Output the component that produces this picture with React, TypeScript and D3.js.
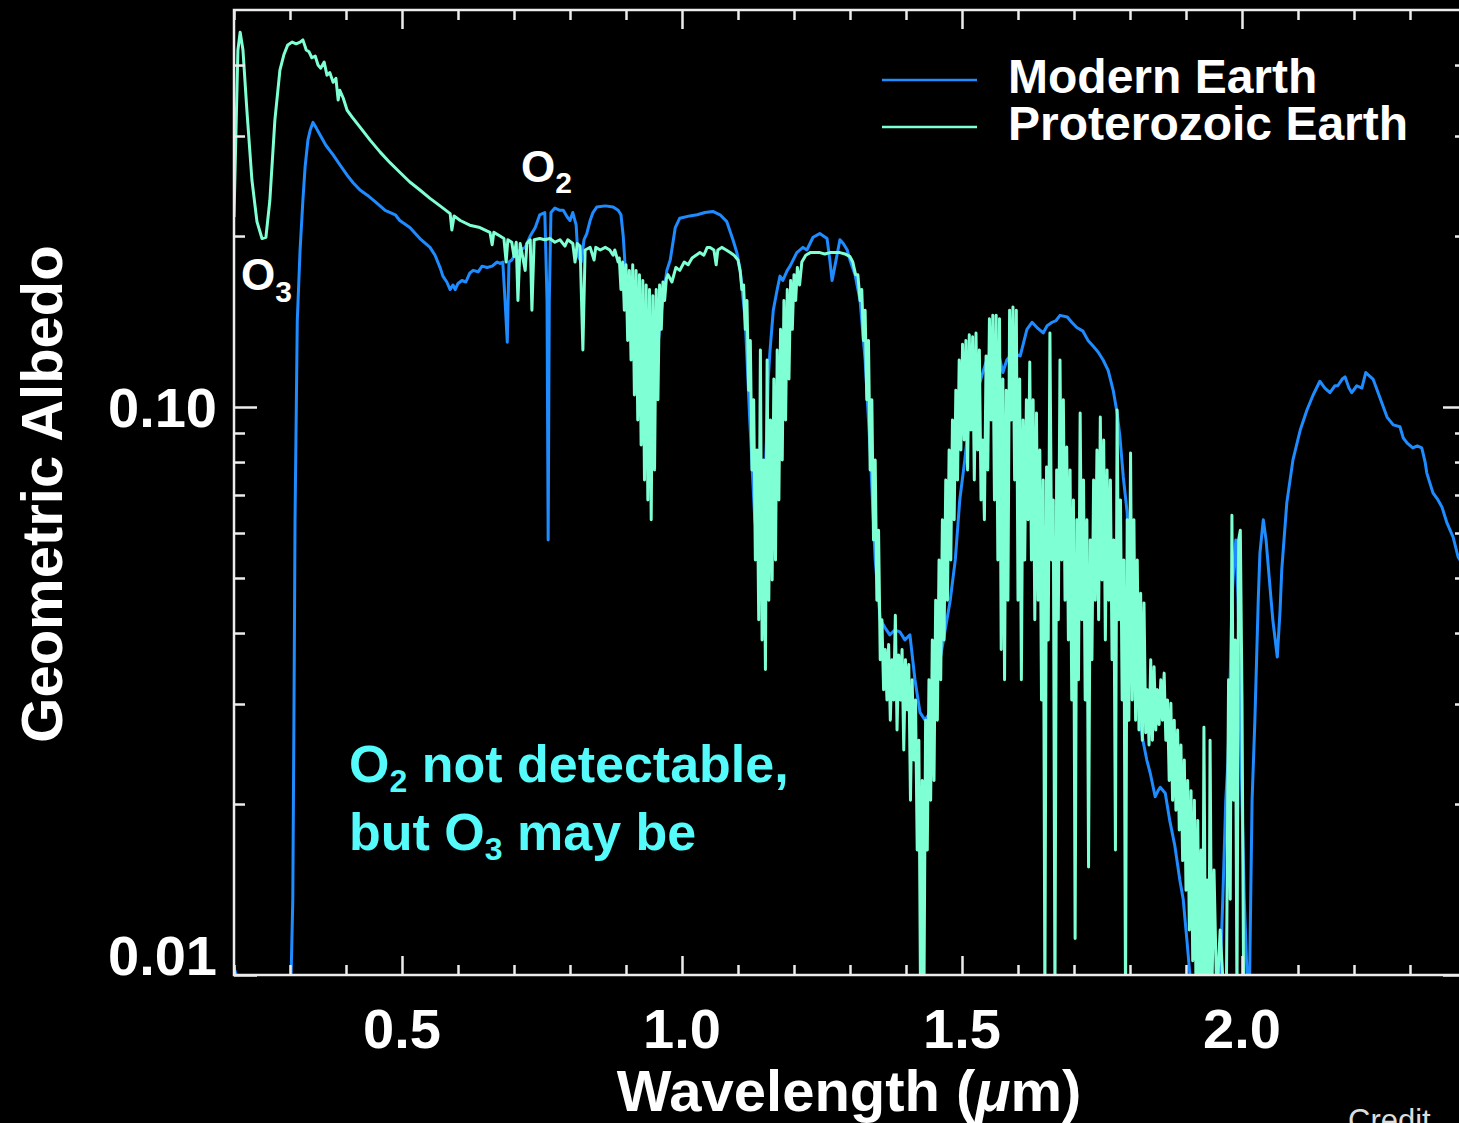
import React, { useEffect, useRef } from "react";
import * as d3 from "d3";

// [wavelength (um), geometric albedo]
const modernEarth: [number, number][] = [
  [0.200,0.0103],[0.204,0.0100],[0.207,0.0094],[0.296,0.0094],[0.302,0.0100],[0.305,0.0136],[0.307,0.0281],[0.309,0.0633],[0.313,0.142],[0.318,0.189],[0.323,0.231],[0.327,0.265],[0.332,0.295],[0.336,0.307],[0.341,0.317],[0.346,0.311],[0.354,0.301],[0.364,0.289],[0.377,0.278],[0.389,0.267],[0.402,0.256],[0.413,0.248],[0.425,0.241],[0.438,0.236],[0.452,0.230],[0.470,0.222],[0.488,0.218],[0.496,0.213],[0.514,0.207],[0.532,0.198],[0.550,0.191],[0.559,0.185],[0.568,0.176],[0.573,0.170],[0.580,0.166],[0.586,0.161],[0.591,0.164],[0.595,0.161],[0.600,0.165],[0.607,0.167],[0.614,0.166],[0.621,0.172],[0.627,0.174],[0.636,0.173],[0.643,0.177],[0.652,0.176],[0.661,0.177],[0.670,0.180],[0.675,0.179],[0.680,0.180],[0.684,0.154],[0.688,0.130],[0.691,0.180],[0.696,0.1815],[0.704,0.187],[0.711,0.189],[0.720,0.191],[0.729,0.200],[0.738,0.207],[0.746,0.218],[0.755,0.220],[0.759,0.154],[0.761,0.0583],[0.763,0.154],[0.766,0.220],[0.773,0.224],[0.782,0.222],[0.788,0.222],[0.795,0.216],[0.800,0.213],[0.805,0.220],[0.811,0.209],[0.814,0.185],[0.820,0.180],[0.825,0.197],[0.830,0.202],[0.836,0.213],[0.841,0.220],[0.848,0.225],[0.863,0.226],[0.877,0.225],[0.886,0.222],[0.891,0.218],[0.895,0.200],[0.898,0.180],[0.904,0.150],[0.916,0.120],[0.934,0.105],[0.952,0.115],[0.964,0.150],[0.973,0.174],[0.979,0.1815],[0.988,0.207],[0.996,0.215],[1.014,0.217],[1.027,0.218],[1.041,0.220],[1.055,0.221],[1.068,0.218],[1.080,0.212],[1.091,0.197],[1.098,0.187],[1.104,0.174],[1.113,0.142],[1.121,0.0949],[1.130,0.0633],[1.139,0.0538],[1.146,0.0633],[1.152,0.0949],[1.154,0.112],[1.157,0.125],[1.163,0.148],[1.170,0.161],[1.175,0.170],[1.180,0.167],[1.188,0.174],[1.193,0.177],[1.205,0.187],[1.216,0.191],[1.223,0.189],[1.234,0.199],[1.246,0.202],[1.259,0.198],[1.264,0.1815],[1.268,0.167],[1.273,0.177],[1.282,0.197],[1.288,0.194],[1.295,0.189],[1.300,0.1815],[1.309,0.171],[1.318,0.154],[1.327,0.121],[1.336,0.0840],[1.345,0.0538],[1.354,0.0422],[1.363,0.0408],[1.371,0.0397],[1.380,0.0405],[1.389,0.0402],[1.398,0.0389],[1.407,0.0397],[1.416,0.0331],[1.425,0.0290],[1.434,0.0281],[1.443,0.0290],[1.461,0.0360],[1.479,0.0457],[1.488,0.0538],[1.496,0.0686],[1.505,0.0807],[1.514,0.0976],[1.523,0.105],[1.529,0.108],[1.536,0.114],[1.543,0.120],[1.550,0.125],[1.563,0.127],[1.568,0.121],[1.573,0.115],[1.580,0.121],[1.586,0.123],[1.595,0.124],[1.604,0.123],[1.611,0.131],[1.616,0.137],[1.625,0.141],[1.634,0.138],[1.645,0.135],[1.652,0.139],[1.661,0.141],[1.668,0.142],[1.675,0.145],[1.688,0.144],[1.696,0.141],[1.705,0.138],[1.716,0.136],[1.725,0.131],[1.734,0.128],[1.743,0.125],[1.752,0.121],[1.761,0.116],[1.770,0.107],[1.777,0.0976],[1.782,0.0886],[1.788,0.0753],[1.795,0.0651],[1.798,0.0510],[1.804,0.0422],[1.811,0.0331],[1.818,0.0281],[1.823,0.0259],[1.830,0.0239],[1.836,0.0227],[1.845,0.0206],[1.850,0.0211],[1.854,0.0214],[1.863,0.0209],[1.871,0.0187],[1.880,0.0169],[1.889,0.0147],[1.895,0.0136],[1.902,0.0114],[1.907,0.0100],[1.911,0.0090],[1.957,0.0090],[1.961,0.0100],[1.966,0.0139],[1.971,0.0203],[1.975,0.0239],[1.979,0.0335],[1.982,0.0457],[1.986,0.0538],[1.989,0.0583],[1.993,0.0457],[1.998,0.0249],[2.004,0.0136],[2.009,0.0100],[2.013,0.0090],[2.018,0.0203],[2.023,0.0281],[2.029,0.0457],[2.032,0.0553],[2.038,0.0633],[2.043,0.0583],[2.050,0.0482],[2.055,0.0422],[2.063,0.0363],[2.068,0.0439],[2.071,0.0517],[2.080,0.0678],[2.091,0.0807],[2.104,0.0911],[2.116,0.0988],[2.127,0.105],[2.139,0.111],[2.148,0.108],[2.157,0.106],[2.166,0.109],[2.171,0.109],[2.179,0.112],[2.184,0.113],[2.191,0.108],[2.196,0.106],[2.205,0.109],[2.214,0.108],[2.221,0.115],[2.234,0.112],[2.246,0.104],[2.259,0.0960],[2.270,0.0930],[2.282,0.0923],[2.288,0.0882],[2.295,0.0864],[2.305,0.0847],[2.313,0.0854],[2.321,0.0847],[2.327,0.0800],[2.330,0.0765],[2.341,0.0706],[2.350,0.0686],[2.357,0.0667],[2.366,0.0625],[2.377,0.0590],[2.386,0.0544],[2.400,0.0517],
];

const proterozoicEarth: [number, number][] = [
  [0.200,0.216],[0.204,0.320],[0.207,0.425],[0.211,0.457],[0.216,0.425],[0.223,0.333],[0.232,0.251],[0.241,0.212],[0.250,0.198],[0.257,0.199],[0.264,0.231],[0.273,0.320],[0.282,0.392],[0.289,0.417],[0.296,0.434],[0.304,0.439],[0.311,0.436],[0.318,0.439],[0.323,0.443],[0.329,0.425],[0.334,0.422],[0.339,0.412],[0.345,0.415],[0.350,0.400],[0.355,0.395],[0.361,0.405],[0.366,0.384],[0.371,0.388],[0.377,0.373],[0.382,0.379],[0.386,0.347],[0.389,0.361],[0.395,0.350],[0.402,0.333],[0.411,0.324],[0.425,0.311],[0.443,0.295],[0.461,0.281],[0.479,0.269],[0.496,0.259],[0.514,0.249],[0.532,0.241],[0.550,0.233],[0.568,0.226],[0.586,0.219],[0.589,0.205],[0.593,0.217],[0.604,0.213],[0.621,0.209],[0.639,0.207],[0.657,0.203],[0.661,0.193],[0.664,0.203],[0.675,0.200],[0.682,0.198],[0.686,0.180],[0.689,0.197],[0.696,0.195],[0.700,0.184],[0.704,0.195],[0.707,0.154],[0.711,0.194],[0.720,0.174],[0.723,0.194],[0.729,0.197],[0.732,0.148],[0.736,0.197],[0.746,0.198],[0.755,0.197],[0.764,0.198],[0.773,0.195],[0.782,0.197],[0.791,0.192],[0.796,0.197],[0.805,0.194],[0.809,0.180],[0.813,0.194],[0.818,0.192],[0.823,0.126],[0.827,0.189],[0.836,0.191],[0.843,0.1815],[0.846,0.191],[0.854,0.189],[0.863,0.191],[0.871,0.189],[0.877,0.185],[0.880,0.189],[0.886,0.180],
  [0.888,0.183],[0.891,0.161],[0.894,0.180],[0.897,0.148],[0.900,0.178],[0.903,0.131],[0.906,0.174],[0.909,0.121],[0.912,0.178],[0.915,0.105],[0.918,0.174],[0.921,0.0949],[0.924,0.171],[0.927,0.0857],[0.930,0.167],[0.933,0.0744],[0.936,0.164],[0.939,0.0686],[0.942,0.161],[0.945,0.0633],[0.948,0.157],[0.951,0.0775],[0.954,0.161],[0.957,0.103],[0.960,0.164],[0.963,0.137],[0.966,0.166],[0.969,0.154],[0.972,0.168],
  [0.975,0.171],[0.982,0.166],[0.989,0.176],[0.996,0.174],[1.004,0.180],[1.011,0.178],[1.018,0.183],[1.025,0.185],[1.032,0.187],[1.039,0.185],[1.045,0.191],[1.050,0.191],[1.057,0.189],[1.061,0.178],[1.064,0.189],[1.071,0.191],[1.079,0.189],[1.086,0.187],[1.093,0.185],[1.100,0.1815],
  [1.104,0.173],[1.107,0.161],[1.110,0.164],[1.113,0.137],[1.116,0.154],[1.119,0.107],[1.122,0.131],[1.125,0.0775],[1.128,0.103],[1.131,0.0538],[1.134,0.0840],[1.137,0.0422],[1.140,0.126],[1.143,0.0389],[1.146,0.0807],[1.149,0.0345],[1.152,0.121],[1.155,0.0457],[1.158,0.0949],[1.161,0.0496],[1.164,0.112],[1.167,0.0538],[1.170,0.126],[1.173,0.0686],[1.176,0.137],[1.179,0.0807],[1.182,0.154],[1.185,0.0949],[1.188,0.161],[1.191,0.112],[1.194,0.167],[1.197,0.137],[1.200,0.171],[1.203,0.154],[1.206,0.176],[1.210,0.164],[1.214,0.180],
  [1.221,0.185],[1.229,0.187],[1.238,0.187],[1.246,0.187],[1.255,0.186],[1.264,0.187],[1.273,0.187],[1.282,0.187],[1.291,0.186],[1.300,0.184],
  [1.305,0.180],[1.310,0.171],[1.314,0.171],[1.318,0.154],[1.321,0.161],[1.324,0.131],[1.327,0.148],[1.330,0.103],[1.333,0.131],[1.336,0.0775],[1.339,0.103],[1.342,0.0583],[1.345,0.0807],[1.348,0.0457],[1.351,0.0607],[1.354,0.0359],[1.357,0.0422],[1.360,0.0318],[1.363,0.0374],[1.366,0.0305],[1.369,0.0382],[1.372,0.0281],[1.375,0.0359],[1.378,0.0305],[1.381,0.0430],[1.384,0.0270],[1.387,0.0366],[1.390,0.0305],[1.393,0.0374],[1.396,0.0249],[1.399,0.0359],[1.402,0.0293],[1.405,0.0352],[1.408,0.0203],[1.411,0.0331],[1.414,0.0239],[1.417,0.0305],[1.420,0.0166],[1.423,0.0259],[1.426,0.0090],[1.429,0.0220],[1.432,0.0090],[1.435,0.0281],[1.438,0.0166],[1.441,0.0331],[1.444,0.0203],[1.447,0.0389],[1.450,0.0220],[1.453,0.0457],[1.456,0.0281],[1.459,0.0538],[1.462,0.0331],[1.465,0.0633],[1.468,0.0389],[1.471,0.0744],[1.474,0.0457],[1.477,0.0840],[1.480,0.0538],[1.483,0.0949],[1.486,0.0633],[1.489,0.107],[1.492,0.0744],[1.495,0.121],[1.498,0.0840],
  [1.501,0.129],[1.504,0.0875],[1.507,0.131],[1.510,0.0775],[1.513,0.134],[1.516,0.0911],[1.519,0.133],[1.522,0.0744],[1.525,0.135],[1.528,0.0840],[1.531,0.126],[1.534,0.0686],[1.537,0.0875],[1.540,0.0633],[1.543,0.123],[1.546,0.0775],[1.549,0.143],[1.552,0.0949],[1.555,0.145],[1.558,0.0686],[1.561,0.145],[1.564,0.0538],[1.567,0.143],[1.570,0.0374],[1.573,0.112],[1.576,0.0331],[1.579,0.107],[1.582,0.0457],[1.585,0.148],[1.588,0.0949],[1.591,0.150],[1.594,0.0744],[1.597,0.148],[1.600,0.0457],[1.603,0.112],[1.606,0.0331],[1.609,0.0949],[1.612,0.0538],[1.615,0.103],[1.618,0.0633],[1.621,0.120],[1.624,0.0538],[1.627,0.103],[1.630,0.0422],[1.633,0.0976],[1.636,0.0457],[1.639,0.0840],[1.642,0.0305],[1.645,0.0744],[1.648,0.0090],[1.651,0.0784],[1.654,0.0389],[1.657,0.135],[1.660,0.0538],[1.663,0.0686],[1.666,0.0090],[1.669,0.0775],[1.672,0.0422],[1.675,0.121],[1.678,0.0538],[1.681,0.103],[1.684,0.0457],[1.687,0.0850],[1.690,0.0389],[1.693,0.0775],[1.696,0.0305],[1.699,0.0686],[1.702,0.0116],[1.705,0.0633],[1.708,0.0331],[1.711,0.0976],[1.714,0.0422],[1.717,0.0744],[1.720,0.0305],[1.723,0.0633],[1.726,0.0155],[1.729,0.0583],[1.732,0.0359],[1.735,0.0744],[1.738,0.0457],[1.741,0.0840],[1.744,0.0422],[1.747,0.0960],[1.750,0.0496],[1.753,0.0875],[1.756,0.0389],[1.759,0.0775],[1.762,0.0457],[1.765,0.0744],[1.768,0.0359],[1.771,0.0583],[1.774,0.0166],[1.777,0.0988],[1.780,0.0422],[1.783,0.0686],[1.786,0.0305],[1.789,0.0538],[1.792,0.0090],[1.795,0.0633],[1.798,0.0281],[1.801,0.0830],
  [1.804,0.0305],[1.807,0.0633],[1.810,0.0281],[1.813,0.0538],[1.816,0.0270],[1.819,0.0470],[1.822,0.0259],[1.825,0.0452],[1.828,0.0267],[1.831,0.0318],[1.834,0.0254],[1.837,0.0359],[1.840,0.0259],[1.843,0.0349],[1.846,0.0270],[1.849,0.0318],[1.852,0.0276],[1.855,0.0331],[1.858,0.0281],[1.861,0.0340],[1.864,0.0259],[1.867,0.0305],[1.870,0.0220],[1.873,0.0301],[1.876,0.0203],[1.879,0.0281],[1.882,0.0195],[1.885,0.0270],[1.888,0.0180],[1.891,0.0254],[1.894,0.0159],[1.897,0.0239],[1.900,0.0141],[1.903,0.0220],[1.906,0.0120],[1.909,0.0211],[1.912,0.0106],[1.915,0.0203],[1.918,0.0090],[1.921,0.0187],[1.924,0.0090],[1.927,0.0166],[1.930,0.0090],[1.932,0.0273],[1.935,0.0090],[1.938,0.0147],[1.941,0.0090],[1.943,0.0259],[1.946,0.0090],[1.950,0.0153],[1.955,0.0090],[1.961,0.0120],[1.968,0.0090],[1.972,0.0090],[1.976,0.0331],[1.979,0.0136],[1.982,0.0645],[1.985,0.0203],[1.988,0.0389],[1.991,0.0090],[1.994,0.0583],[1.997,0.0607],[2.000,0.0305],[2.003,0.0090],
];

const seriesNames = ["Modern Earth", "Proterozoic Earth"];
const seriesColors = ["#1e8cff", "#7fffd4"];

const xMajorTicks = [0.5, 1.0, 1.5, 2.0];
const xTickLabels = ["0.5", "1.0", "1.5", "2.0"];
const xMinorTicks = [0.2, 0.3, 0.4, 0.6, 0.7, 0.8, 0.9, 1.1, 1.2, 1.3, 1.4, 1.6, 1.7, 1.8, 1.9, 2.1, 2.2, 2.3, 2.4];
const yMajorTicks = [0.01, 0.1];
const yTickLabels = ["0.01", "0.10"];
const yMinorTicks = [0.02, 0.03, 0.04, 0.05, 0.06, 0.07, 0.08, 0.09, 0.2, 0.3, 0.4];

function App() {
  const svgRef = useRef<SVGSVGElement>(null);

  useEffect(() => {
    const svg = d3.select(svgRef.current);
    svg.selectAll("*").remove();
    const width = 1459;
    const height = 1123;
    const plot = { left: 234, top: 10, right: 1466, bottom: 975 };
    const axisColor = "#ececec";
    const font = "'Liberation Sans', Arial, Helvetica, sans-serif";

    svg.append("rect").attr("width", width).attr("height", height).attr("fill", "#000");

    const xScale = d3.scaleLinear().domain([0.2, 2.4]).range([plot.left, plot.right]);
    const yScale = d3.scaleLog().domain([0.01, 0.5]).range([plot.bottom, plot.top]);

    svg
      .append("defs")
      .append("clipPath")
      .attr("id", "plot-clip")
      .append("rect")
      .attr("x", plot.left)
      .attr("y", plot.top)
      .attr("width", plot.right - plot.left)
      .attr("height", plot.bottom - plot.top);

    // spectra (green drawn over blue)
    const lineGenerator = d3
      .line<[number, number]>()
      .x((d) => xScale(d[0]))
      .y((d) => yScale(d[1]));

    const curves = svg.append("g").attr("clip-path", "url(#plot-clip)");
    [modernEarth, proterozoicEarth].forEach((series, i) => {
      curves
        .append("path")
        .datum(series)
        .attr("fill", "none")
        .attr("stroke", seriesColors[i])
        .attr("stroke-width", 3)
        .attr("stroke-linejoin", "round")
        .attr("d", lineGenerator);
    });

    // frame
    svg
      .append("rect")
      .attr("x", plot.left)
      .attr("y", plot.top)
      .attr("width", plot.right - plot.left)
      .attr("height", plot.bottom - plot.top)
      .attr("fill", "none")
      .attr("stroke", axisColor)
      .attr("stroke-width", 2.5);

    // inward ticks on all four sides
    const addTicks = (axis: any, tx: number, ty: number) => {
      svg
        .append("g")
        .attr("transform", `translate(${tx}, ${ty})`)
        .call(axis)
        .call((g: any) => g.select(".domain").remove())
        .call((g: any) => g.selectAll("text").remove())
        .call((g: any) => g.selectAll("line").attr("stroke", axisColor).attr("stroke-width", 2.5));
    };
    addTicks(d3.axisBottom(xScale).tickValues(xMinorTicks).tickSize(-10), 0, plot.bottom);
    addTicks(d3.axisBottom(xScale).tickValues(xMajorTicks).tickSize(-19), 0, plot.bottom);
    addTicks(d3.axisTop(xScale).tickValues(xMinorTicks).tickSize(-10), 0, plot.top);
    addTicks(d3.axisTop(xScale).tickValues(xMajorTicks).tickSize(-19), 0, plot.top);
    addTicks(d3.axisLeft(yScale).tickValues(yMinorTicks).tickSize(-11), plot.left, 0);
    addTicks(d3.axisLeft(yScale).tickValues(yMajorTicks).tickSize(-23), plot.left, 0);
    addTicks(d3.axisRight(yScale).tickValues(yMinorTicks).tickSize(-11), plot.right, 0);
    addTicks(d3.axisRight(yScale).tickValues(yMajorTicks).tickSize(-23), plot.right, 0);

    const bold = (sel: any, size: number, color = "#fff") =>
      sel.attr("font-family", font).attr("font-weight", "bold").attr("font-size", size).attr("fill", color);

    // X tick labels
    xMajorTicks.forEach((v, i) => {
      bold(svg.append("text"), 56)
        .attr("x", xScale(v))
        .attr("y", 1048)
        .attr("text-anchor", "middle")
        .text(xTickLabels[i]);
    });

    // Y tick labels (bottom one sits on the axis line, like the original)
    yMajorTicks.forEach((v, i) => {
      bold(svg.append("text"), 56)
        .attr("x", 217)
        .attr("y", i === 0 ? yScale(v) : yScale(v) + 20)
        .attr("text-anchor", "end")
        .text(yTickLabels[i]);
    });

    // X-axis label
    const xTitle = bold(svg.append("text"), 58)
      .attr("x", 849)
      .attr("y", 1111)
      .attr("text-anchor", "middle");
    xTitle.append("tspan").text("Wavelength (");
    xTitle.append("tspan").attr("font-style", "italic").text("\u03bc");
    xTitle.append("tspan").text("m)");

    // Y-axis label
    bold(svg.append("text"), 58)
      .attr("transform", "translate(62, 494) rotate(-90)")
      .attr("text-anchor", "middle")
      .text("Geometric Albedo");

    // legend
    seriesNames.forEach((name, i) => {
      const ly = 80 + i * 47;
      svg
        .append("line")
        .attr("x1", 882)
        .attr("x2", 977)
        .attr("y1", ly)
        .attr("y2", ly)
        .attr("stroke", seriesColors[i])
        .attr("stroke-width", 2.6);
      bold(svg.append("text"), 48)
        .attr("x", 1008)
        .attr("y", ly + 13)
        .text(name);
    });

    // molecule labels
    const molecule = (x: number, y: number, sub: string, size: number, subSize: number, drop: number, color = "#fff") => {
      const t = bold(svg.append("text"), size, color).attr("x", x).attr("y", y);
      t.append("tspan").text("O");
      t.append("tspan").attr("font-size", subSize).attr("dy", drop).text(sub);
      return t;
    };
    molecule(241, 290, "3", 44, 30, 12);
    molecule(521, 182, "2", 44, 30, 11);

    // annotation
    const cyan = "#55fafa";
    const line1 = molecule(349, 782, "2", 52, 32, 10, cyan);
    line1.append("tspan").attr("dy", -10).text(" not detectable,");
    const line2 = bold(svg.append("text"), 52, cyan).attr("x", 349).attr("y", 850);
    line2.append("tspan").text("but O");
    line2.append("tspan").attr("font-size", 32).attr("dy", 10).text("3");
    line2.append("tspan").attr("dy", -10).text(" may be");

    // credit line, cut off at the bottom edge as in the source image
    svg
      .append("text")
      .attr("x", 1348)
      .attr("y", 1131)
      .attr("font-family", font)
      .attr("font-size", 31)
      .attr("fill", "#dddddd")
      .text("Credit");
  }, []);

  return (
    <svg
      ref={svgRef}
      width={1459}
      height={1123}
      style={{ position: "absolute", left: 0, top: 0, display: "block" }}
    ></svg>
  );
}

export default App;
